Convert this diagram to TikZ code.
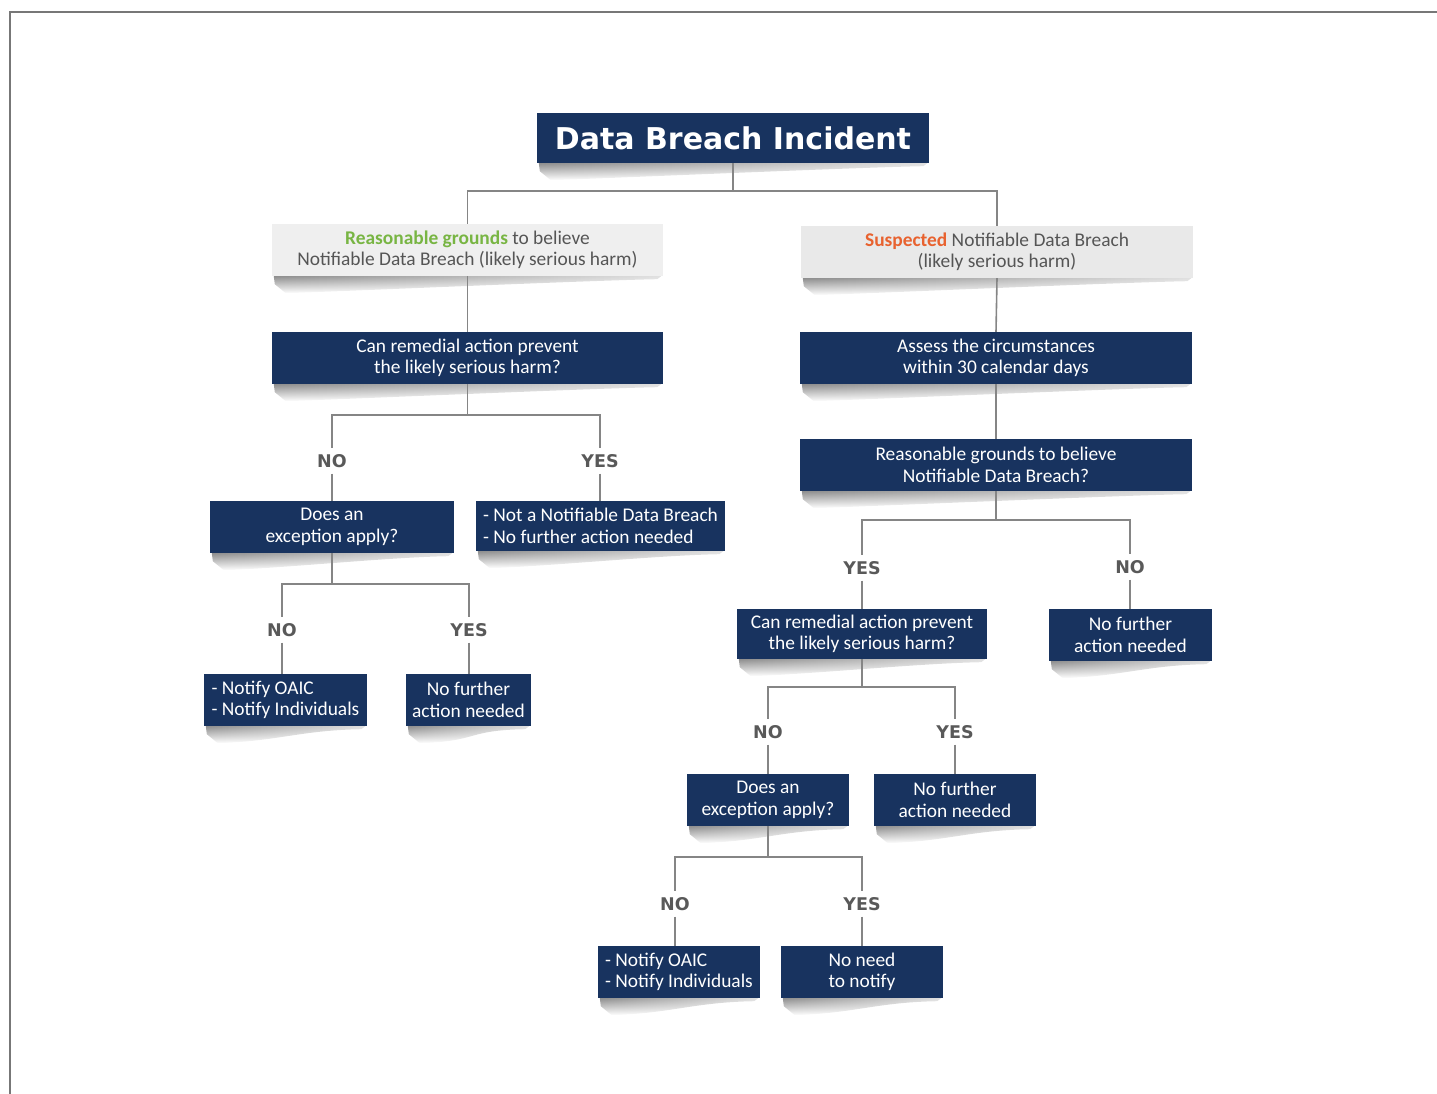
\documentclass[tikz,border=0pt]{standalone}
\usepackage{fontspec}
\setmainfont{Carlito}
\newfontfamily\titlefont{DejaVu Sans}
\usetikzlibrary{backgrounds,fadings}
\definecolor{navy}{HTML}{18335F}
\definecolor{lightbox}{HTML}{EFEFEF}
\definecolor{lightbox2}{HTML}{E9E9E9}
\definecolor{conngray}{HTML}{858585}
\definecolor{lblgray}{HTML}{595959}
\definecolor{txtgray}{HTML}{555555}
\definecolor{greentxt}{HTML}{78B543}
\definecolor{orangetxt}{HTML}{E8622F}
\definecolor{bordergray}{HTML}{777777}
\tikzfading[name=shfade, top color=transparent!20, bottom color=transparent!100]
\begin{document}
\begin{tikzpicture}[x=1pt,y=-1pt,
  navybox/.style={fill=navy, text=white, inner sep=0pt, align=center,
    minimum height=52pt, font=\fontsize{19.4}{21.5}\selectfont},
  greybox/.style={fill=lightbox, text=txtgray, inner sep=0pt, align=center,
    minimum height=52pt, font=\fontsize{19.4}{21.5}\selectfont},
  lbl/.style={text=lblgray, font=\titlefont\bfseries\fontsize{17.5}{20}\selectfont,
    inner xsep=0pt, inner ysep=6pt, text height=12.8pt, text depth=0pt},
  conn/.style={draw=conngray, line width=1.6pt}
]
\useasboundingbox (0,0) rectangle (1437,1094);
\draw[bordergray, line width=2pt] (9,12.5) -- (1437,12.5);
\draw[bordergray, line width=2pt] (10,12) -- (10,1094);

% boxes
\node[navybox, minimum width=392pt, minimum height=50pt,
  font=\titlefont\bfseries\fontsize{30}{33}\selectfont] (title) at (733,138) {Data Breach Incident};
\node[greybox, minimum width=391pt] (g1) at (467.5,250)
  {\textcolor{greentxt}{\bfseries Reasonable grounds} to believe\\Notifiable Data Breach (likely serious harm)};
\node[greybox, fill=lightbox2, minimum width=392pt] (g2) at (997,252)
  {\textcolor{orangetxt}{\bfseries Suspected} Notifiable Data Breach\\(likely serious harm)};
\node[navybox, minimum width=391pt] (c1) at (467.5,358) {Can remedial action prevent\\the likely serious harm?};
\node[navybox, minimum width=392pt] (a1) at (996,358) {Assess the circumstances\\within 30 calendar days};
\node[navybox, minimum width=392pt] (r1) at (996,465) {Reasonable grounds to believe\\Notifiable Data Breach?};

\node[lbl] (l1) at (332,461) {NO};
\node[lbl] (l2) at (600,461) {YES};
\node[navybox, minimum width=244pt] (e1) at (332,527) {Does an\\exception apply?};
\node[navybox, minimum width=249pt, minimum height=50pt, align=left] (nb) at (600.5,526)
  {- Not a Notifiable Data Breach\\- No further action needed};

\node[lbl] (l3) at (282,630) {NO};
\node[lbl] (l4) at (469,630) {YES};
\node[navybox, minimum width=163pt, align=left] (o1) at (285.5,700) {- Notify OAIC\\- Notify Individuals};
\node[navybox, minimum width=125pt] (f1) at (468.5,700) {No further\\action needed};

\node[lbl] (l5) at (862,568) {YES};
\node[lbl] (l6) at (1130,567) {NO};
\node[navybox, minimum width=250pt, minimum height=50pt] (c2) at (862,634) {Can remedial action prevent\\the likely serious harm?};
\node[navybox, minimum width=163pt] (f2) at (1130.5,635) {No further\\action needed};

\node[lbl] (l7) at (768,732) {NO};
\node[lbl] (l8) at (955,732) {YES};
\node[navybox, minimum width=162pt] (e2) at (768,800) {Does an\\exception apply?};
\node[navybox, minimum width=162pt] (f3) at (955,800) {No further\\action needed};

\node[lbl] (l9) at (675,904) {NO};
\node[lbl] (l10) at (862,904) {YES};
\node[navybox, minimum width=162pt, align=left] (o2) at (679,972) {- Notify OAIC\\- Notify Individuals};
\node[navybox, minimum width=162pt] (nn) at (862,972) {No need\\to notify};

% connectors
\draw[conn] (title.south) -- ++(0,28) -| (g1.north);
\draw[conn] (title.south) -- ++(0,28) -| (g2.north);
\draw[conn] (g1.south) -- (c1.north);
\draw[conn] (g2.south) -- (a1.north);
\draw[conn] (a1.south) -- (r1.north);

\draw[conn] (c1.south) -- ++(0,31) -| (l1.north);
\draw[conn] (c1.south) -- ++(0,31) -| (l2.north);
\draw[conn] (l1.south) -- (l1.south |- e1.north);
\draw[conn] (l2.south) -- (l2.south |- nb.north);

\draw[conn] (e1.south) -- ++(0,31) -| (l3.north);
\draw[conn] (e1.south) -- ++(0,31) -| (l4.north);
\draw[conn] (l3.south) -- (l3.south |- o1.north);
\draw[conn] (l4.south) -- (l4.south |- f1.north);

\draw[conn] (r1.south) -- ++(0,29) -| (l5.north);
\draw[conn] (r1.south) -- ++(0,29) -| (l6.north);
\draw[conn] (l5.south) -- (l5.south |- c2.north);
\draw[conn] (l6.south) -- (l6.south |- f2.north);

\draw[conn] (c2.south) -- ++(0,28) -| (l7.north);
\draw[conn] (c2.south) -- ++(0,28) -| (l8.north);
\draw[conn] (l7.south) -- (l7.south |- e2.north);
\draw[conn] (l8.south) -- (l8.south |- f3.north);

\draw[conn] (e2.south) -- ++(0,31) -| (l9.north);
\draw[conn] (e2.south) -- ++(0,31) -| (l10.north);
\draw[conn] (l9.south) -- (l9.south |- o2.north);
\draw[conn] (l10.south) -- (l10.south |- nn.north);

% shadows
\begin{scope}[on background layer]
\foreach \n in {title,g1,g2,c1,a1,r1,e1,nb,o1,f1,c2,f2,e2,f3,o2,nn} {
  \shade[left color=black!55, right color=black!15, path fading=shfade]
    ([xshift=2pt]\n.south west) -- ([xshift=-2pt]\n.south east)
    -- ([xshift=-6pt,yshift=-3pt]\n.south east)
    .. controls +(-60pt,-1pt) and +(60pt,2pt) .. ([xshift=14pt,yshift=-17pt]\n.south west)
    -- ([xshift=3pt,yshift=-8pt]\n.south west) -- cycle;
}
\end{scope}
\end{tikzpicture}
\end{document}
